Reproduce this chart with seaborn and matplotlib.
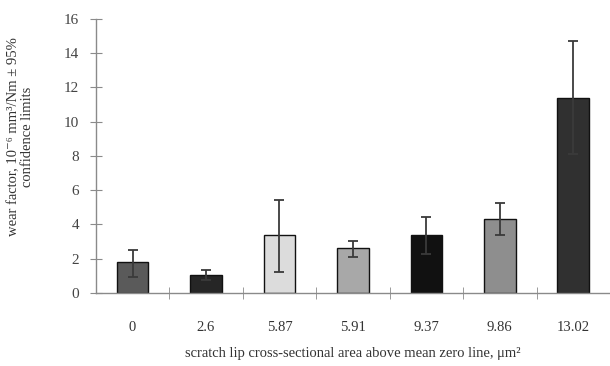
import seaborn as sns
import matplotlib.pyplot as plt
import numpy as np

# scratch lip area categories and wear factor values
areas = ['0', '2.6', '5.87', '5.91', '9.37', '9.86', '13.02']
wear = [1.8, 1.05, 3.4, 2.6, 3.35, 4.3, 11.4]
err_low = [0.85, 0.3, 2.2, 0.5, 1.1, 0.95, 3.3]
err_high = [0.7, 0.3, 2.0, 0.45, 1.1, 0.95, 3.3]
bar_colors = ['#5a5a5a', '#262626', '#dcdcdc', '#a8a8a8', '#111111', '#8e8e8e', '#303030']

sns.set_style('white')
plt.rcParams['font.family'] = ['Liberation Serif', 'DejaVu Serif']

fig = plt.figure(figsize=(6.1, 3.66), dpi=100)
ax = fig.add_axes([0.157, 0.2, 0.843, 0.748])

sns.barplot(x=areas, y=wear, hue=areas, palette=bar_colors, legend=False,
            width=0.43, edgecolor='#111111', linewidth=1.0, ax=ax)
ax.errorbar(range(len(areas)), wear, yerr=[err_low, err_high], fmt='none',
            ecolor='#3a3a3a', elinewidth=1.3, capsize=3.5, capthick=1.3)

ax.set_xlim(-0.5, 6.5)
ax.set_ylim(0, 16)
ax.set_yticks(range(0, 17, 2))
ax.set_xticks(np.arange(0.5, 6.5, 1.0), minor=True)

for s in ['top', 'right']:
    ax.spines[s].set_visible(False)
for s in ['left', 'bottom']:
    ax.spines[s].set_color('#8a8a8a')
    ax.spines[s].set_linewidth(1.0)

ax.tick_params(axis='y', direction='inout', length=8, color='#8a8a8a',
               labelsize=11, labelcolor='#444444', left=True, pad=8)
ax.tick_params(axis='x', which='major', length=0, labelsize=10.5,
               labelcolor='#333333', pad=20)
ax.tick_params(axis='x', which='minor', direction='inout', length=8,
               color='#8a8a8a', bottom=True)

ax.set_xlabel('scratch lip cross-sectional area above mean zero line, \u03bcm\u00b2',
              fontsize=10.5, color='#333333', labelpad=10)
ax.set_ylabel('wear factor, 10\u207b\u2076 mm\u00b3/Nm \u00b1 95%\nconfidence limits',
              fontsize=10.5, color='#333333', linespacing=1.1)
ax.yaxis.set_label_coords(-0.12, 0.57)

fig.savefig('out.png', dpi=100)
